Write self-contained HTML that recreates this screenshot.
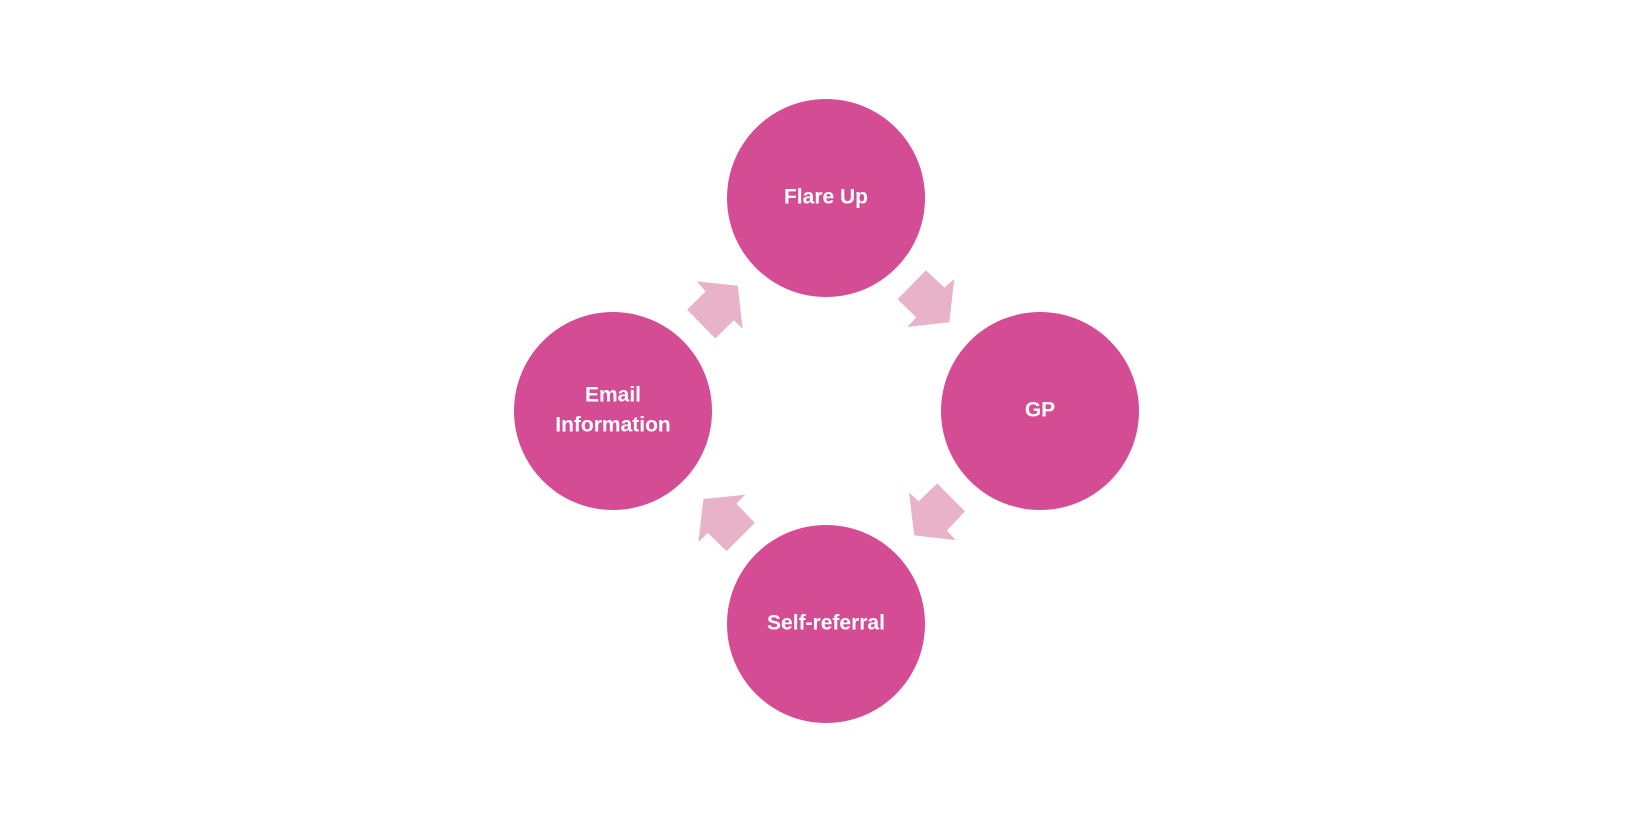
<!DOCTYPE html>
<html><head><meta charset="utf-8"><style>
html,body{margin:0;padding:0;background:#fff;}
svg{display:block}
text{font-family:"Liberation Sans",sans-serif;font-weight:bold;font-size:21px;fill:#fff;text-anchor:middle;dominant-baseline:central}
</style></head><body>
<svg width="1652" height="836" viewBox="0 0 1652 836">
<g fill="#E8B2C8" transform="translate(826.5,411) scale(0.975,0.96) translate(-830,-425.5)">
<polygon points="932,279 951,297 961,288 956,333 913,338 922,328 903,309"/>
<polygon points="697,290.5 739,295 744,340 735,331 716,350 687,320 706,301"/>
<polygon points="943.5,501 972,530 953.5,550 962.5,560 920,555 914.6,510.4 924.6,519.5"/>
<polygon points="746.6,512.7 737.6,522 756.5,542 727.6,571.4 708.2,552.5 698.7,562 703.7,517.2"/>
</g>
<g fill="#D44C93">
<circle cx="826" cy="198" r="99"/>
<circle cx="1040" cy="411" r="99"/>
<circle cx="613" cy="411" r="99"/>
<circle cx="826" cy="624" r="99"/>
</g>
<text x="826" y="197">Flare Up</text>
<text x="1040" y="410">GP</text>
<text x="613" y="395">Email</text>
<text x="613" y="425">Information</text>
<text x="826" y="623">Self-referral</text>
</svg>
</body></html>
